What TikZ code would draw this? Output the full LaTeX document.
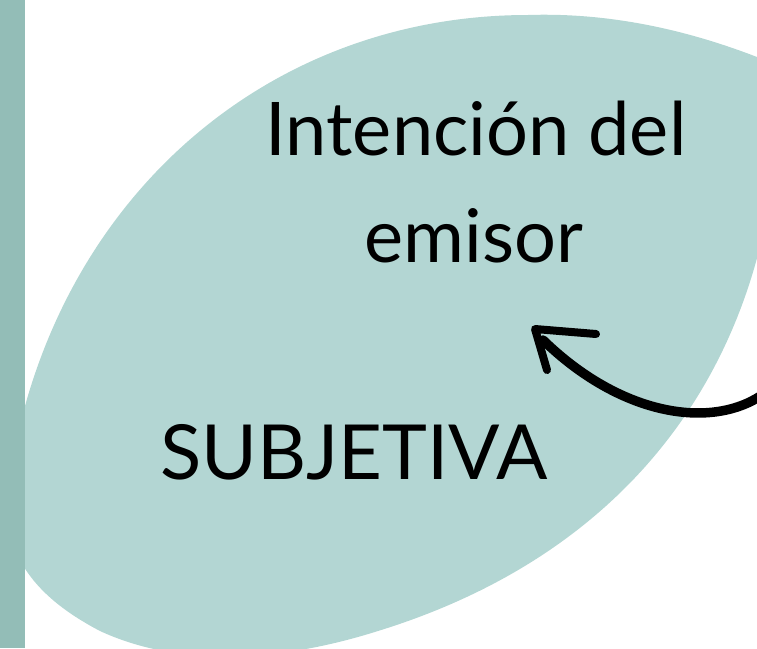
\documentclass[tikz,border=0pt]{standalone}
\usepackage{fontspec}
\setmainfont{Lato}
\definecolor{leafc}{RGB}{179,214,211}
\definecolor{barc}{RGB}{147,189,183}
\begin{document}
\begin{tikzpicture}[x=1pt,y=-1pt,
  txt/.style={inner sep=0pt,anchor=base,text=black},
  arrowline/.style={line width=9.5pt,line cap=round,line join=round,draw=black}]
\useasboundingbox (0,0) rectangle (757,648);
\clip (0,0) rectangle (757,648);
% leaf
\fill[leafc] (20,425) .. controls (80,180) and (280,15) .. (528,15)
  .. controls (620,12) and (700,35) .. (757,57)
  .. controls (800,75) and (790,120) .. (775,160)
  .. controls (755,360) and (640,550) .. (378,631)
  .. controls (280,662) and (180,668) .. (100,631)
  .. controls (60,610) and (30,585) .. (15,550)
  -- (5,480) -- cycle;
% bar
\fill[barc] (0,0) rectangle (25,648);
% texts
\node[txt] (t1) at (476,155) {\fontsize{74}{80}\selectfont Intención del};
\node[txt] (t2) at (474,262) {\fontsize{74}{80}\selectfont emisor};
\node[txt] (t3) at (354,479) {\fontsize{76}{80}\selectfont SUBJETIVA};
% arrow
\coordinate (aS) at (762,395);
\coordinate (aT) at (543,340);
\coordinate (tip) at (535,329);
\coordinate (b1) at (596,334);
\coordinate (b2) at (547,370);
\draw[arrowline] (aS) .. controls (710,430) and (620,415) .. (aT);
\draw[line width=8pt,line cap=round,line join=round] (b1) -- (tip) -- (b2);
\end{tikzpicture}
\end{document}
